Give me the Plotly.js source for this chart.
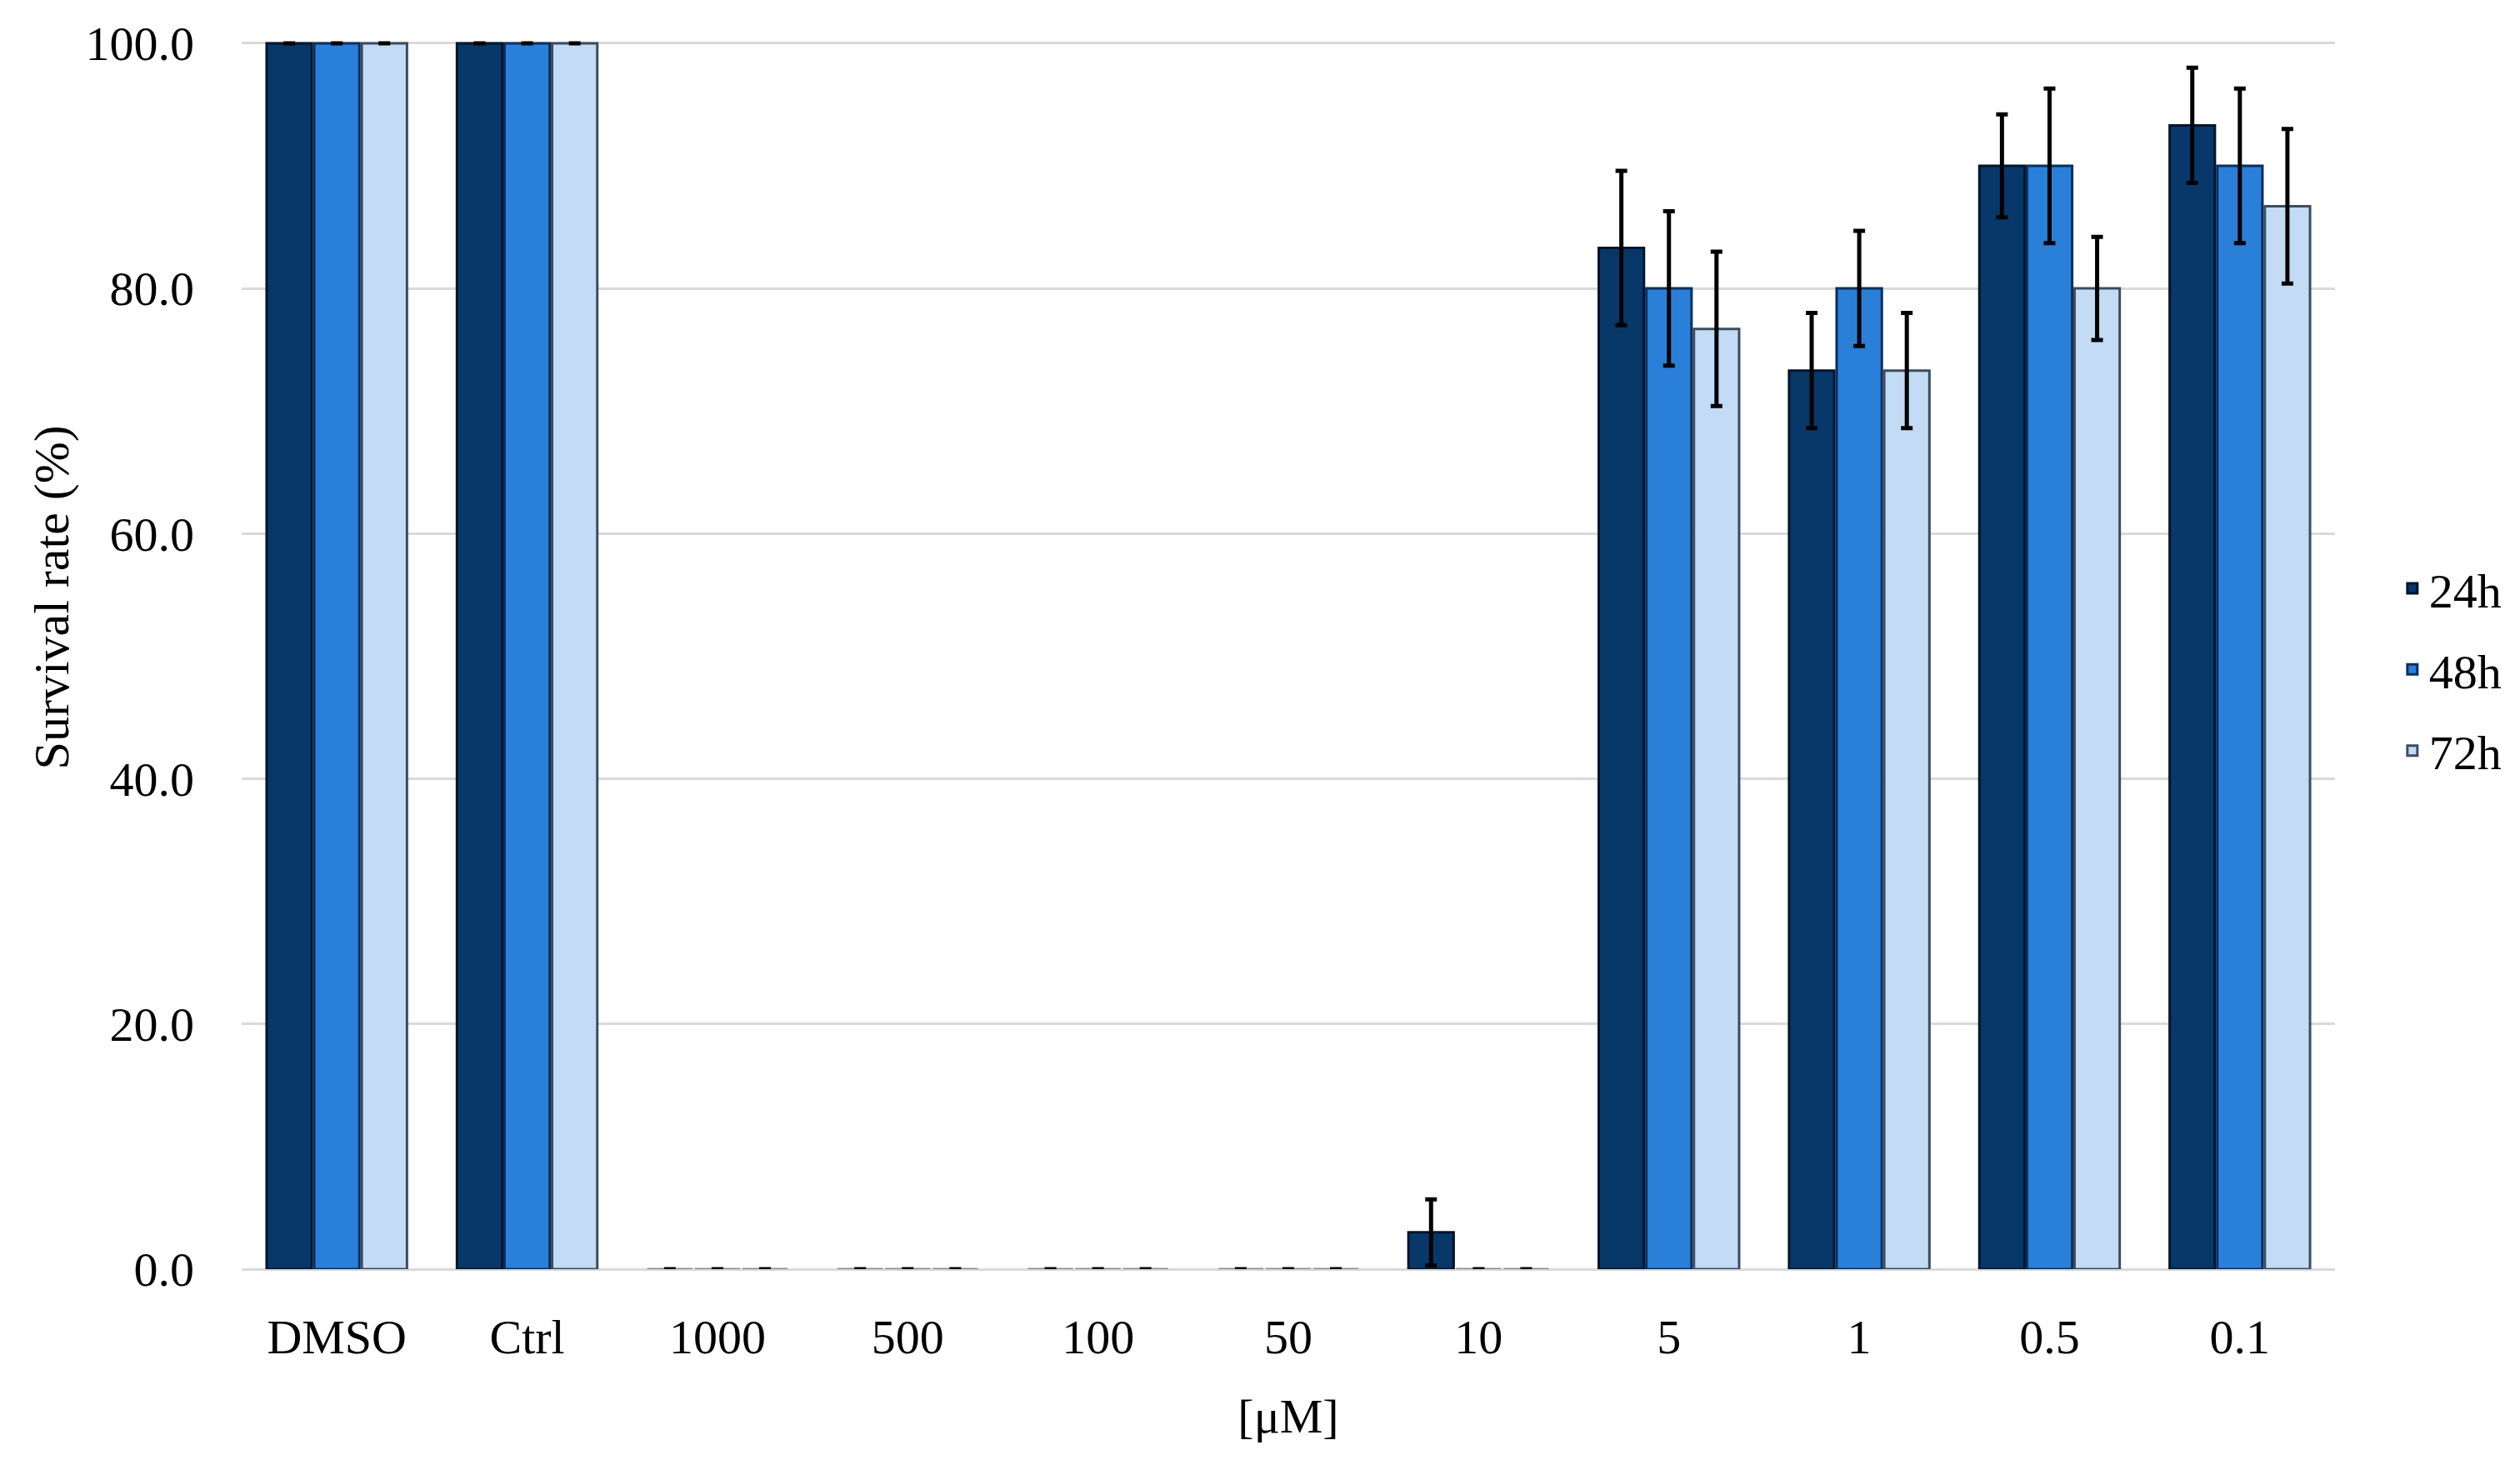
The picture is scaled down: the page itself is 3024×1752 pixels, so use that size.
<!DOCTYPE html>
<html>
<head>
<meta charset="utf-8">
<script src="https://cdn.plot.ly/plotly-3.0.1.min.js"></script>
<style>html,body{margin:0;padding:0;background:#fff;}#chart{width:3024px;height:1752px;}</style>
</head>
<body>
<div id="chart"></div>
<script>
const categories = ["DMSO", "Ctrl", "1000", "500", "100", "50", "10", "5", "1", "0.5", "0.1"];
const seriesNames = ["24h", "48h", "72h"];
const v24 = [100, 100, 0, 0, 0, 0, 3.0, 83.3, 73.3, 90.0, 93.3];
const v48 = [100, 100, 0, 0, 0, 0, 0, 80.0, 80.0, 90.0, 90.0];
const v72 = [100, 100, 0, 0, 0, 0, 0, 76.7, 73.3, 80.0, 86.7];
const e24 = [0, 0, 0, 0, 0, 0, 2.7, 6.3, 4.7, 4.2, 4.7];
const e48 = [0, 0, 0, 0, 0, 0, 0, 6.3, 4.7, 6.3, 6.3];
const e72 = [0, 0, 0, 0, 0, 0, 0, 6.3, 4.7, 4.2, 6.3];
const tickVals = [0, 20, 40, 60, 80, 100];

const colors = ["#073869", "#2a7fd9", "#c3dbf5"];
const lineColors = ["#01142a", "#0a2f5c", "#3c4c60"];
const vals = [v24, v48, v72];
const errs = [e24, e48, e72];

const font = "'Liberation Serif', 'DejaVu Serif', serif";

const traces = seriesNames.map((name, i) => ({
  type: "bar",
  name: name,
  legendgroup: name,
  x: categories,
  y: vals[i],
  marker: {
    color: colors[i],
    line: { color: vals[i].map(v => v === 0 ? "#8c8c8c" : lineColors[i]), width: 3 }
  },
  error_y: { type: "data", array: errs[i], visible: true, color: "#000000", thickness: 5, width: 7 },
  cliponaxis: false
}));

const layout = {
  width: 3024,
  height: 1752,
  margin: { l: 290, r: 222, t: 46, b: 229 },
  paper_bgcolor: "#ffffff",
  plot_bgcolor: "#ffffff",
  barmode: "group",
  bargap: 0.25,
  bargroupgap: 0.05,
  font: { family: font, size: 58, color: "#000000" },
  xaxis: {
    type: "category",
    showline: false,
    ticks: "",
    ticklabelstandoff: 42,
    tickfont: { family: font, size: 58, color: "#000" },
    title: { text: "[μM]", font: { family: font, size: 58, color: "#000" }, standoff: 42 }
  },
  yaxis: {
    range: [0, 100.4],
    tickvals: tickVals,
    tickformat: ".1f",
    showgrid: true,
    gridcolor: "#d9d9d9",
    gridwidth: 3,
    zeroline: true,
    zerolinecolor: "#d9d9d9",
    zerolinewidth: 3,
    showline: false,
    ticks: "",
    ticklabelstandoff: 56,
    tickfont: { family: font, size: 58, color: "#000" }
  },
  annotations: [{
    text: "Survival rate (%)",
    xref: "paper", yref: "paper",
    x: -0.0908, y: 0.546,
    xanchor: "center", yanchor: "middle",
    textangle: -90,
    showarrow: false,
    font: { family: font, size: 60, color: "#000" }
  }],
  legend: {
    x: 1.029, xanchor: "left",
    y: 0.487, yanchor: "middle",
    font: { family: font, size: 58, color: "#000" },
    tracegroupgap: 19,
    itemwidth: 30
  },
  showlegend: true
};

Plotly.newPlot("chart", traces, layout, { displayModeBar: false, staticPlot: true });
</script>
</body>
</html>
